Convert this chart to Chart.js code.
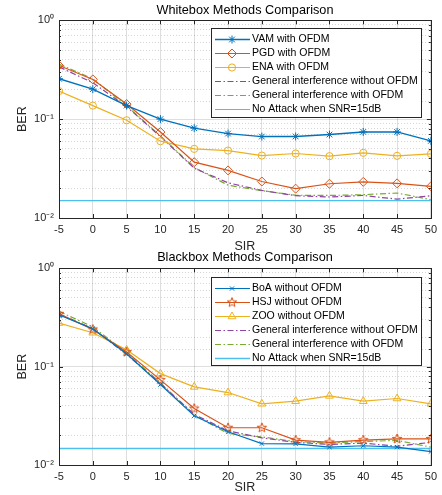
<!DOCTYPE html>
<html>
<head>
<meta charset="utf-8">
<script src="https://cdn.jsdelivr.net/npm/chart.js"></script>
<style>
  html,body{margin:0;padding:0;background:#fff;}
  #wrap{position:relative;width:442px;height:495px;overflow:hidden;background:#fff;}
  canvas{position:absolute;left:0;}
  #c1{top:0;}
  #c2{top:245px;}
</style>
</head>
<body>
<div id="wrap">
  <canvas id="c1" width="442" height="254"></canvas>
  <canvas id="c2" width="442" height="250"></canvas>
</div>
<script>
// ---------- data ----------
const sir = [-5, 0, 5, 10, 15, 20, 25, 30, 35, 40, 45, 50];

// Whitebox panel
const vamOfdm   = [0.256, 0.201, 0.137, 0.100, 0.081, 0.0714, 0.0666, 0.0668, 0.0698, 0.0742, 0.0742, 0.0602];
const pgdOfdm   = [0.349, 0.252, 0.142, 0.074, 0.0367, 0.0303, 0.0234, 0.0198, 0.0222, 0.0232, 0.0224, 0.0209];
const enaOfdm   = [0.192, 0.137, 0.0973, 0.0598, 0.0500, 0.0481, 0.0428, 0.0449, 0.0422, 0.0456, 0.0425, 0.0445];
const genNoOfdmW = [0.338, 0.233, 0.134, 0.0666, 0.0319, 0.0227, 0.0190, 0.0168, 0.0163, 0.0169, 0.0155, 0.0168];
const genOfdmW   = [0.360, 0.256, 0.136, 0.0677, 0.0324, 0.0215, 0.0189, 0.0170, 0.0169, 0.0172, 0.0179, 0.0153];
const noAttackW  = [0.015, 0.015, 0.015, 0.015, 0.015, 0.015, 0.015, 0.015, 0.015, 0.015, 0.015, 0.015];

// Blackbox panel
const boaNoOfdm = [0.336, 0.243, 0.135, 0.0657, 0.0316, 0.0218, 0.0165, 0.0164, 0.0152, 0.0157, 0.0152, 0.0137];
const hsjNoOfdm = [0.344, 0.239, 0.141, 0.0733, 0.0375, 0.0239, 0.0239, 0.0179, 0.0170, 0.0179, 0.0184, 0.0184];
const zooNoOfdm = [0.277, 0.221, 0.148, 0.0849, 0.0622, 0.0545, 0.0419, 0.0445, 0.0504, 0.0445, 0.0474, 0.0419];
const genNoOfdmB = [0.344, 0.243, 0.133, 0.0672, 0.0327, 0.0222, 0.0189, 0.0170, 0.0162, 0.0167, 0.0155, 0.0170];
const genOfdmB   = [0.364, 0.254, 0.138, 0.0683, 0.0321, 0.0209, 0.0193, 0.0173, 0.0167, 0.0173, 0.0178, 0.0152];
const noAttackB  = [0.0147, 0.0147, 0.0147, 0.0147, 0.0147, 0.0147, 0.0147, 0.0147, 0.0147, 0.0147, 0.0147, 0.0147];

const xTicks = [-5, 0, 5, 10, 15, 20, 25, 30, 35, 40, 45, 50];
const yMajorLabels = {'-2': '10\u207B\u00B2', '-1': '10\u207B\u00B9', '0': '10\u2070'};

// ---------- styling ----------
const FONT = "'Liberation Sans', Arial, Helvetica, sans-serif";
const C = {blue:'#0072BD', red:'#D95319', yellow:'#EDB120', purple:'#8E44A0', green:'#77AC30', cyan:'#4DBEEE'};
const DASHDOT = [6, 2.5, 1.5, 2.5];

function pts(arr){ return arr.map((v,i)=>({x: sir[i], y: v})); }
function isMajor(v){ const l = Math.log10(v); return Math.abs(l - Math.round(l)) < 1e-6; }

function makePentagram(color, r){
  const s = Math.ceil(r*2 + 4);
  const c = document.createElement('canvas'); c.width = s; c.height = s;
  const g = c.getContext('2d');
  g.strokeStyle = color; g.lineWidth = 1;
  g.beginPath();
  for (let i = 0; i < 10; i++) {
    const a = -Math.PI/2 + i*Math.PI/5;
    const rr = (i % 2 === 0) ? r : r*0.42;
    g.lineTo(s/2 + rr*Math.cos(a), s/2 + rr*Math.sin(a));
  }
  g.closePath(); g.stroke();
  return c;
}

function ds(label, data, color, opt){
  return Object.assign({
    label, data: pts(data), borderColor: color, backgroundColor: color,
    borderWidth: 1.2, pointRadius: 0, pointStyle: false,
    pointBorderColor: color, pointBackgroundColor: 'rgba(0,0,0,0)', pointBorderWidth: 1,
    tension: 0, fill: false
  }, opt || {});
}

// axes box + inward ticks
const boxPlugin = {
  id: 'boxPlugin',
  afterDatasetsDraw(chart){
    const {ctx, chartArea: a} = chart;
    const xs = chart.scales.x, ys = chart.scales.y;
    ctx.save();
    ctx.strokeStyle = '#262626'; ctx.lineWidth = 1;
    ctx.beginPath();
    xs.ticks.forEach(t => {
      const px = Math.round(xs.getPixelForValue(t.value)) + 0.5;
      ctx.moveTo(px, a.bottom); ctx.lineTo(px, a.bottom - 4);
      ctx.moveTo(px, a.top); ctx.lineTo(px, a.top + 4);
    });
    ys.ticks.forEach(t => {
      const py = Math.round(ys.getPixelForValue(t.value)) + 0.5;
      const len = isMajor(t.value) ? 4 : 2;
      ctx.moveTo(a.left, py); ctx.lineTo(a.left + len, py);
      ctx.moveTo(a.right, py); ctx.lineTo(a.right - len, py);
    });
    ctx.stroke();
    ctx.strokeRect(Math.round(a.left)+0.5, Math.round(a.top)+0.5, Math.round(a.right - a.left), Math.round(a.bottom - a.top));
    ctx.restore();
  }
};

// legend inside the axes (top-right)
const insideLegend = {
  id: 'insideLegend',
  afterDraw(chart, args, o){
    const {ctx, chartArea: a} = chart;
    const x0 = Math.round(a.right - o.right - o.width), y0 = Math.round(a.top + o.top);
    ctx.save();
    ctx.fillStyle = '#fff'; ctx.fillRect(x0, y0, o.width, o.height);
    ctx.strokeStyle = '#262626'; ctx.lineWidth = 1;
    ctx.strokeRect(x0 + 0.5, y0 + 0.5, o.width, o.height);
    ctx.font = o.fontSize + 'px ' + FONT;
    ctx.textBaseline = 'middle'; ctx.textAlign = 'left';
    chart.data.datasets.forEach((d, i) => {
      const y = Math.round(y0 + o.firstRow + i*o.rowGap) + 0.5;
      ctx.setLineDash(d.borderDash || []);
      ctx.strokeStyle = d.borderColor; ctx.lineWidth = d.borderWidth;
      ctx.beginPath(); ctx.moveTo(x0 + 4, y); ctx.lineTo(x0 + 39, y); ctx.stroke();
      ctx.setLineDash([]);
      if (d.pointStyle && d.pointRadius > 0) {
        ctx.strokeStyle = d.pointBorderColor; ctx.fillStyle = d.pointBackgroundColor; ctx.lineWidth = d.pointBorderWidth;
        Chart.helpers.drawPoint(ctx, {pointStyle: d.pointStyle, radius: d.pointRadius, rotation: 0, borderWidth: d.pointBorderWidth}, x0 + 21, y);
      }
      ctx.fillStyle = '#000';
      ctx.fillText(d.label, x0 + 41, y);
    });
    ctx.restore();
  }
};

function makeOptions(titleText, titlePad, xHeight, legendOpts){
  return {
    responsive: false, animation: false,
    layout: {padding: {left: 0, right: 9, top: 0, bottom: 0}, autoPadding: false},
    plugins: {
      legend: {display: false}, tooltip: {enabled: false},
      title: {display: true, fullSize: false, align: 'center', text: titleText, color: '#000', font: {family: FONT, size: 12.7, weight: 'normal'}, padding: titlePad},
      insideLegend: legendOpts
    },
    scales: {
      x: {
        type: 'linear', min: -5, max: 50,
        afterBuildTicks(s){ s.ticks = xTicks.map(v => ({value: v})); },
        ticks: {autoSkip: false, maxRotation: 0, padding: 5, color: '#262626', font: {family: FONT, size: 11}, callback: v => String(v)},
        grid: {color: 'rgba(0,0,0,0.13)', drawTicks: false, lineWidth: 1},
        border: {display: false},
        title: {display: true, text: 'SIR', color: '#262626', font: {family: FONT, size: 12.5}, padding: 0},
        afterFit(s){ s.height = xHeight; }
      },
      y: {
        type: 'logarithmic', position: 'left', min: 0.01, max: 1,
        ticks: {autoSkip: false, padding: 5, color: '#262626', font: {family: FONT, size: 11},
          callback: v => isMajor(v) ? yMajorLabels[String(Math.round(Math.log10(v)))] : ''},
        grid: {drawTicks: false, lineWidth: 1, color: c => isMajor(c.tick.value) ? 'rgba(0,0,0,0.13)' : 'rgba(0,0,0,0)'},
        border: {display: false},
        title: {display: true, text: 'BER', color: '#262626', font: {family: FONT, size: 12.5}, padding: {top: 15, bottom: 0}},
        afterFit(s){ s.width = 59; }
      },
      y2: {
        type: 'logarithmic', position: 'left', min: 0.01, max: 1,
        ticks: {display: false, autoSkip: false},
        grid: {drawTicks: false, lineWidth: 1, color: c => isMajor(c.tick.value) ? 'rgba(0,0,0,0)' : 'rgba(0,0,0,0.16)'},
        border: {display: false, dash: [1, 2]},
        afterFit(s){ s.width = 0; }
      }
    }
  };
}

// ---------- chart 1 ----------
new Chart(document.getElementById('c1'), {
  type: 'line',
  data: {
    datasets: [
      ds('VAM with OFDM', vamOfdm, C.blue, {pointStyle: 'star', pointRadius: 4, borderWidth: 1.4}),
      ds('PGD with OFDM', pgdOfdm, C.red, {pointStyle: 'rectRot', pointRadius: 4.5}),
      ds('ENA with OFDM', enaOfdm, C.yellow, {pointStyle: 'circle', pointRadius: 3.6}),
      ds('General interference without OFDM', genNoOfdmW, C.purple, {borderDash: DASHDOT}),
      ds('General interference with OFDM', genOfdmW, C.green, {borderDash: DASHDOT}),
      ds('No Attack when SNR=15dB', noAttackW, C.cyan)
    ]
  },
  options: makeOptions('Whitebox Methods Comparison', {top: 3, bottom: 2}, 36,
    {width: 210, height: 89, right: 10, top: 8, firstRow: 11, rowGap: 14, fontSize: 10.5}),
  plugins: [boxPlugin, insideLegend]
});

// ---------- chart 2 ----------
new Chart(document.getElementById('c2'), {
  type: 'line',
  data: {
    datasets: [
      ds('BoA without OFDM', boaNoOfdm, C.blue, {pointStyle: 'crossRot', pointRadius: 3}),
      ds('HSJ without OFDM', hsjNoOfdm, C.red, {pointStyle: makePentagram(C.red, 5), pointRadius: 5}),
      ds('ZOO without OFDM', zooNoOfdm, C.yellow, {pointStyle: 'triangle', pointRadius: 4.5}),
      ds('General interference without OFDM', genNoOfdmB, C.purple, {borderDash: DASHDOT}),
      ds('General interference with OFDM', genOfdmB, C.green, {borderDash: DASHDOT}),
      ds('No Attack when SNR=15dB', noAttackB, C.cyan, {borderWidth: 1.5})
    ]
  },
  options: makeOptions('Blackbox Methods Comparison', {top: 5, bottom: 3}, 30,
    {width: 210, height: 88, right: 10, top: 9, firstRow: 10.5, rowGap: 14, fontSize: 10.5}),
  plugins: [boxPlugin, insideLegend]
});
</script>
</body>
</html>
